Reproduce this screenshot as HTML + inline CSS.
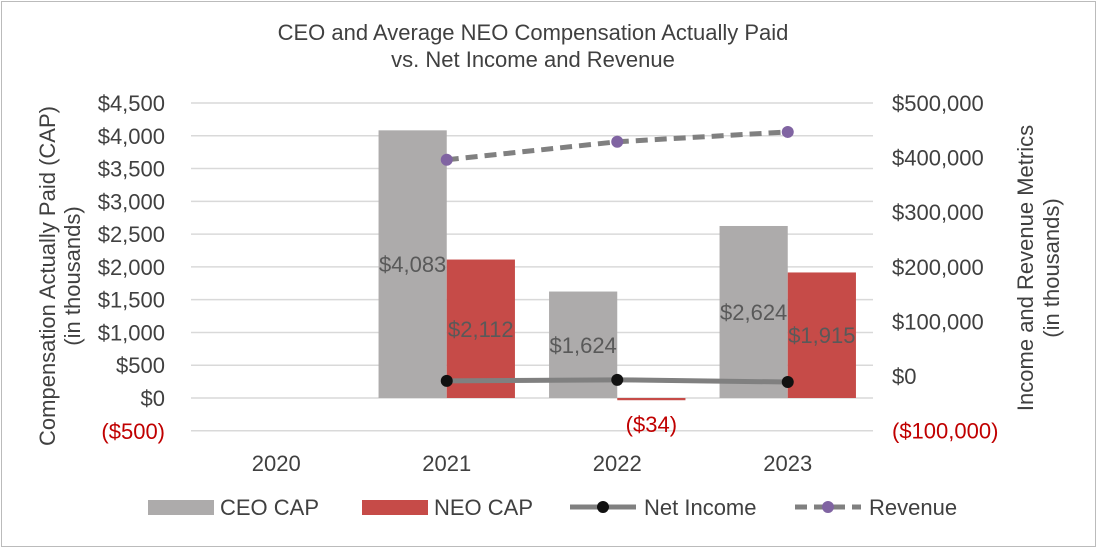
<!DOCTYPE html>
<html><head><meta charset="utf-8"><style>
body{margin:0;background:#fff;font-family:"Liberation Sans",Arial,sans-serif}
svg text{font-family:"Liberation Sans",Arial,sans-serif}
</style></head><body>
<svg id="c" width="1104" height="554" viewBox="0 0 1104 554">
<rect x="1.5" y="1.5" width="1094" height="545" fill="#fff" stroke="#bbb"/>
<text x="533" y="40" font-size="22" fill="#404040" text-anchor="middle">CEO and Average NEO Compensation Actually Paid</text>
<text x="533" y="67" font-size="22" fill="#404040" text-anchor="middle">vs. Net Income and Revenue</text>
<g id="grid"></g><g id="bars"></g><g id="lines"></g><g id="axes"></g>
<text transform="translate(55,276) rotate(-90)" font-size="22" fill="#404040" text-anchor="middle">Compensation Actually Paid (CAP)</text>
<text transform="translate(80,276) rotate(-90)" font-size="22" fill="#404040" text-anchor="middle">(in thousands)</text>
<text transform="translate(1033,268) rotate(-90)" font-size="22" fill="#404040" text-anchor="middle">Income and Revenue Metrics</text>
<text transform="translate(1059,268) rotate(-90)" font-size="22" fill="#404040" text-anchor="middle">(in thousands)</text>
<g>
<rect x="148" y="500" width="66" height="15" fill="#adabab"/>
<text x="220" y="515" font-size="22" fill="#404040">CEO CAP</text>
<rect x="362" y="500" width="66" height="15" fill="#c64b48"/>
<text x="434" y="515" font-size="22" fill="#404040">NEO CAP</text>
<line x1="570" y1="507" x2="636" y2="507" stroke="#808080" stroke-width="5"/>
<circle cx="603" cy="507" r="6" fill="#111"/>
<text x="644" y="515" font-size="22" fill="#404040">Net Income</text>
<line x1="795" y1="507" x2="861" y2="507" stroke="#808080" stroke-width="5" stroke-dasharray="12,7"/>
<circle cx="828" cy="507" r="6" fill="#8064a2"/>
<text x="869" y="515" font-size="22" fill="#404040">Revenue</text>
</g>
</svg>
<script>
const years=["2020","2021","2022","2023"];
const ceoCap=[null,4083,1624,2624];
const neoCap=[null,2112,-34,1915];
const netIncome=[null,-9000,-7000,-11000];
const revenue=[null,396000,429000,447000];
const leftTicks=[-500,0,500,1000,1500,2000,2500,3000,3500,4000,4500];
const rightTicks=[-100000,0,100000,200000,300000,400000,500000];
const NS="http://www.w3.org/2000/svg";
const x0=191,x1=873,band=(x1-x0)/years.length;
const yL=v=>398-v*(295/4500);
const yR=v=>376-v*(273/500000);
const xc=i=>x0+band*(i+0.5);
function mk(t,a,p){const e=document.createElementNS(NS,t);for(const k in a)e.setAttribute(k,a[k]);document.getElementById(p).appendChild(e);return e;}
const fmt=v=>v<0?"($"+Math.abs(v).toLocaleString("en-US")+")":"$"+v.toLocaleString("en-US");
leftTicks.forEach(v=>{
 const g=mk("line",{x1:x0,x2:x1,y1:yL(v),y2:yL(v),stroke:"#d9d9d9","stroke-width":1.5},"grid");
 
 
 const t=mk("text",{x:165,y:yL(v)+8,"font-size":22,fill:v<0?"#c00000":"#404040","text-anchor":"end"},"axes");
 t.textContent=fmt(v);
 
 
});
rightTicks.forEach(v=>{
 const t=mk("text",{x:892,y:yR(v)+8,"font-size":22,fill:v<0?"#c00000":"#404040"},"axes");
 t.textContent=fmt(v);
 
 
});
years.forEach((y,i)=>{
 const t=mk("text",{x:xc(i),y:471,"font-size":22,fill:"#404040","text-anchor":"middle"},"axes");
 t.textContent=y;
 
 
});
const bw=band*0.4;
years.forEach((y,i)=>{
 if(ceoCap[i]!=null){
  const v=ceoCap[i],top=Math.min(yL(v),yL(0)),h=Math.abs(yL(v)-yL(0));
  const r=mk("rect",{x:xc(i)-bw,y:top,width:bw,height:h,fill:"#adabab"},"bars");
  
  
  const t=mk("text",{x:xc(i)-bw/2,y:(yL(v)+yL(0))/2+8,"font-size":22,fill:"#595959","text-anchor":"middle"},"lines");
  t.textContent=fmt(v);
  
  
 }
 if(neoCap[i]!=null){
  const v=neoCap[i],top=Math.min(yL(v),yL(0)),h=Math.max(Math.abs(yL(v)-yL(0)),1.5);
  const r=mk("rect",{x:xc(i),y:top,width:bw,height:h,fill:"#c64b48"},"bars");
  
  
  const ly=v<0?yL(0)+34:(yL(v)+yL(0))/2+8;
  const t=mk("text",{x:xc(i)+bw/2,y:ly,"font-size":22,fill:v<0?"#c00000":"#595959","text-anchor":"middle"},"lines");
  t.textContent=fmt(v);
  
  
 }
});
function series(arr,dash,col,name){
 const pts=[];arr.forEach((v,i)=>{if(v!=null)pts.push([xc(i),yR(v)]);});
 const p=mk("polyline",{points:pts.map(p=>p.join(",")).join(" "),fill:"none",stroke:"#808080","stroke-width":5,"stroke-dasharray":dash},"lines");
 
 
 pts.forEach(q=>{
  const c=mk("circle",{cx:q[0],cy:q[1],r:6,fill:col},"lines");
  
  
 });
}
series(netIncome,"none","#111","net-income");
series(revenue,"12,7","#8064a2","revenue");
</script>
</body></html>
